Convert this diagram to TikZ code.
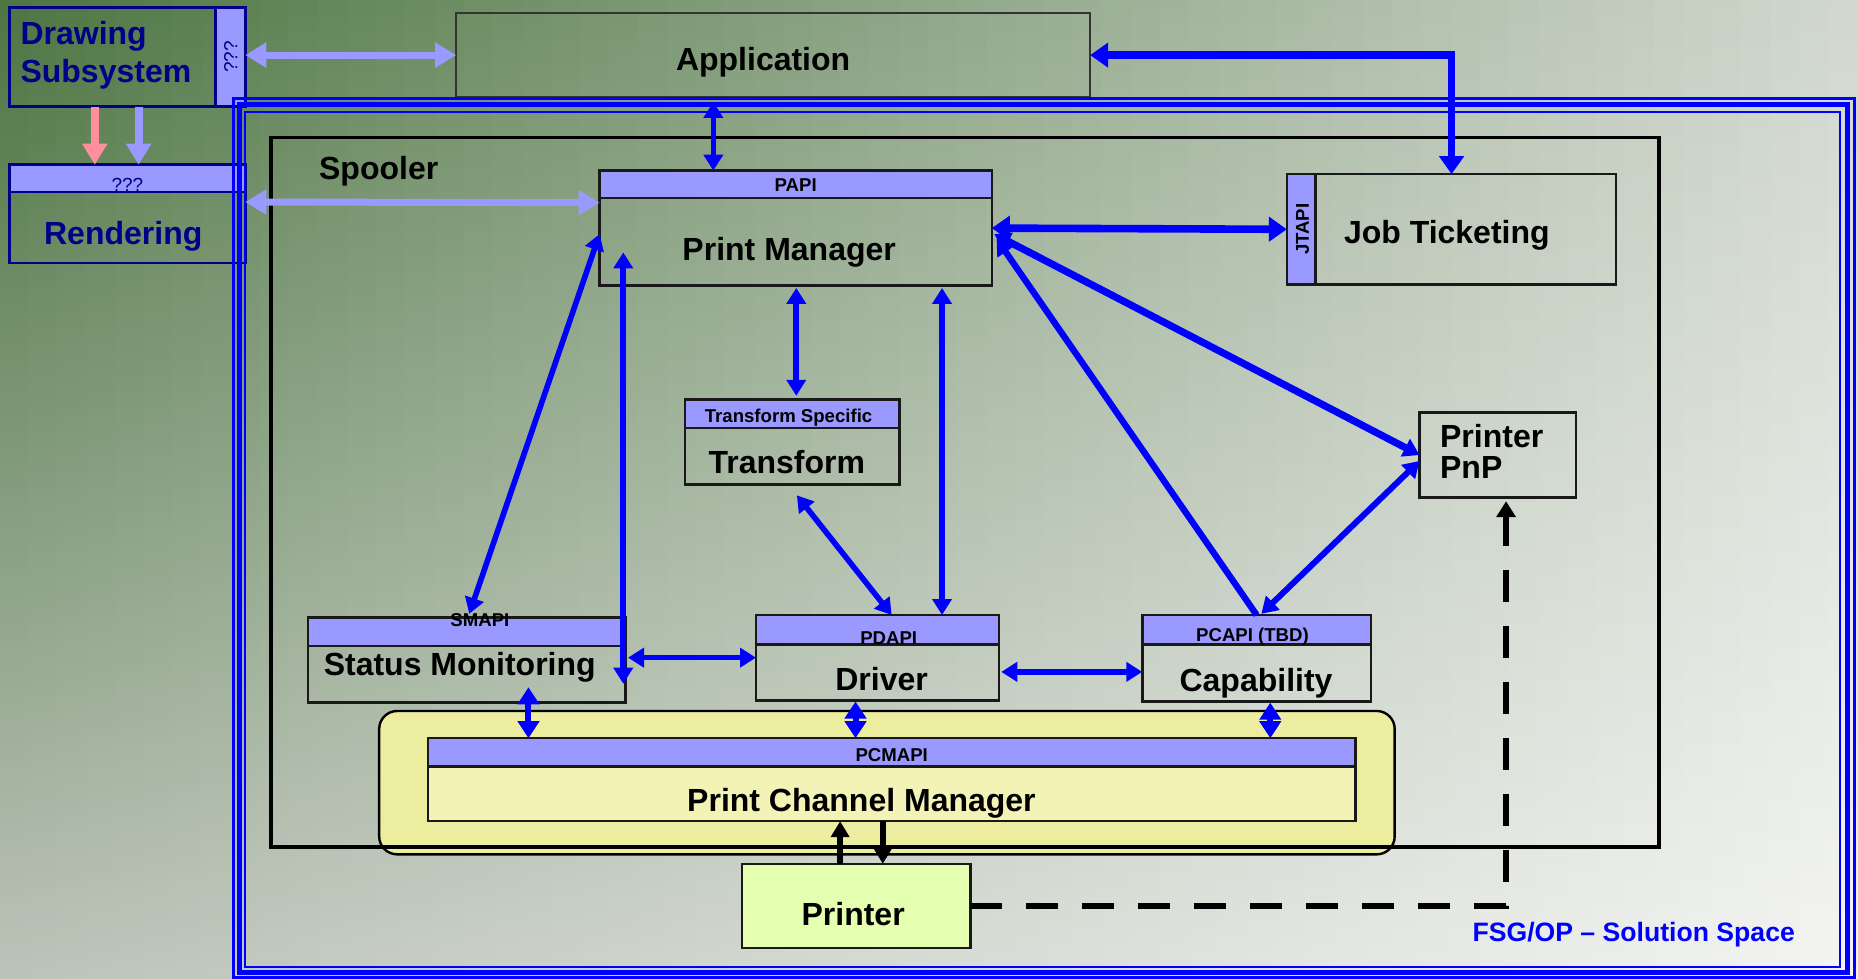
\documentclass[tikz,border=0pt]{standalone}
\usepackage{fontspec}
\setmainfont{Liberation Sans}
\usetikzlibrary{arrows.meta,calc}
\newdimen\U \U=0.5925pt
\definecolor{lav}{HTML}{9999FF}
\definecolor{navy}{HTML}{000088}
\definecolor{bblue}{HTML}{0000FF}
\definecolor{pinkc}{HTML}{FF8F9B}
\definecolor{bgTL}{HTML}{4C7541}
\definecolor{bgTR}{HTML}{D2D8CF}
\definecolor{bgBL}{HTML}{BCC3B9}
\definecolor{bgBR}{HTML}{F4F5F3}
\definecolor{ylw}{HTML}{EDED9F}
\definecolor{ylw2}{HTML}{F3F3B5}
\definecolor{prnfill}{HTML}{E4FFB0}
\newcommand\mkbox[6][]{\node[boxsty,minimum width={(#5-#3)*\U},minimum height={(#6-#4)*\U},#1] (#2) at ({(#3+#5)/2},{(#4+#6)/2}) {};}
\tikzset{
  boxsty/.style={rectangle, draw=black!90, line width=1.2pt, inner sep=0pt, outer sep=0pt},
  stripsty/.style={fill=lav, draw=black!90, line width=1.2pt},
  bigtxt/.style={font=\fontsize{16}{19}\selectfont\bfseries, inner sep=0pt, text height=11.5pt, text depth=0pt},
  lbltxt/.style={font=\fontsize{9.3}{11}\selectfont\bfseries, inner sep=0pt, text height=6.7pt, text depth=0pt},
  qtxt/.style={font=\fontsize{9.5}{11}\selectfont, text=navy, inner sep=0pt, text height=6.8pt, text depth=0pt},
  tipB/.tip={Triangle[length=8pt,width=9.5pt]},
  tipBB/.tip={Triangle[length=9pt,width=12pt]},
  tipS/.tip={Triangle[length=8.5pt,width=10.5pt]},
  tipL/.tip={Triangle[length=10.5pt,width=12pt]},
  tipK/.tip={Triangle[length=8pt,width=9pt]},
  blu/.style={draw=bblue, line width=2.8pt, tipB-tipB},
  bluT/.style={draw=bblue, line width=3.8pt, tipBB-tipBB},
  bluS/.style={draw=bblue, line width=3pt, tipS-tipS},
  lavar/.style={draw=lav, line width=3.5pt, tipL-tipL},
  blk/.style={draw=black, line width=2.8pt, -tipK},
  dashline/.style={draw=black, line width=3pt, dash pattern=on 16pt off 12pt, -tipB},
}
\begin{document}
\begin{tikzpicture}[x=0.5925pt,y=-0.5925pt]
\useasboundingbox (0,0) rectangle (1568,826);
% background: bilinear gradient built from vertical strips
\foreach \i in {0,...,63}{
  \pgfmathsetmacro\p{100*(\i+0.5)/64}
  \shade[top color=bgTR!\p!bgTL, bottom color=bgBR!\p!bgBL]
    ({\i*24.5-0.6},0) rectangle ({(\i+1)*24.5+0.6},826);
}

% Drawing subsystem and rendering
\mkbox[draw=navy, line width=1.4pt]{ds}{8}{6}{207}{90}
\draw[fill=lav, draw=navy, line width=1.4pt] (ds.north east) rectangle ($(ds.south east)+(-25,0)$);
\node[qtxt, rotate=90] (dsq) at ($(ds.east)+(-12.5,0)$) {???};
\node[bigtxt, text=navy, anchor=west] (dst1) at (17,28) {Drawing};
\node[bigtxt, text=navy, anchor=west] (dst2) at (17,60) {Subsystem};

\mkbox[draw=navy, line width=1.4pt]{rn}{8}{139}{207}{222}
\draw[fill=lav, draw=navy, line width=1.4pt] (rn.north west) rectangle ($(rn.north east)+(0,23)$);
\node[qtxt] (rnq) at ($(rn.north)+(0,17)$) {???};
\node[bigtxt, text=navy] (rnt) at (104,197) {Rendering};

\draw[draw=pinkc, line width=4pt, -tipL] ($(ds.south west)+(72,0)$) -- ($(rn.north west)+(72,0)$);
\draw[draw=lav, line width=4pt, -tipL] ($(ds.south west)+(109,0)$) -- ($(rn.north west)+(109,0)$);

% Application
\mkbox[draw=black!80, line width=1pt]{app}{385}{11}{920}{82}
\node[bigtxt] (appt) at (644,50) {Application};

% solution-space frame
\draw[bblue, line width=1.2pt] (197,83) rectangle (1565,825);
\draw[bblue, line width=2.6pt] (202,88.5) rectangle (1559,821);
\draw[bblue, line width=1.2pt] (207,94.5) rectangle (1553,816);

% yellow print channel area
\draw[fill=ylw, draw=black, line width=1.2pt, rounded corners=9pt] (320,600) rectangle (1177,721);

% spooler
\mkbox[draw=black, line width=1.9pt]{sp}{229}{116}{1400}{715}
\node[bigtxt, anchor=west] (spt) at (269,142) {Spooler};

% print channel manager
\mkbox[fill=ylw2]{pcm}{361}{623}{1144}{693}
\draw[stripsty] (pcm.north west) rectangle ($(pcm.north east)+(0,24)$);
\node[lbltxt] (pcml) at ($(pcm.north)+(0,14)$) {PCMAPI};
\node[bigtxt] (pcmt) at (727,675) {Print Channel Manager};

% printer
\mkbox[fill=prnfill]{prn}{626}{729}{819}{800}
\node[bigtxt] (prnt) at (720,771) {Printer};

% print manager
\mkbox{pm}{506}{144}{837}{241}
\draw[stripsty] (pm.north west) rectangle ($(pm.north east)+(0,23)$);
\node[lbltxt] (pml) at ($(pm.north)+(0,12)$) {PAPI};
\node[bigtxt] (pmt) at (666,210) {Print Manager};

% job ticketing
\mkbox{jt}{1086}{147}{1364}{240}
\draw[stripsty] (jt.north west) rectangle ($(jt.south west)+(24,0)$);
\node[lbltxt, rotate=90] (jtl) at ($(jt.west)+(13,0)$) {JTAPI};
\node[bigtxt] (jtt) at (1221,196) {Job Ticketing};

% transform
\mkbox{tr}{578}{337}{759}{409}
\draw[stripsty] (tr.north west) rectangle ($(tr.north east)+(0,24)$);
\node[lbltxt] (trl) at ($(tr.north)+(-3,14)$) {Transform Specific};
\node[bigtxt] (trt) at (664,390) {Transform};

% printer PnP
\mkbox{pnp}{1198}{348}{1330}{420}
\node[bigtxt, anchor=west] (pnp1) at (1215,368) {Printer};
\node[bigtxt, anchor=west] (pnp2) at (1215,394) {PnP};

% status monitoring
\mkbox{sm}{260}{521}{528}{593}
\draw[stripsty] (sm.north west) rectangle ($(sm.north east)+(0,24)$);
\node[lbltxt] (sml) at (405,523) {SMAPI};
\node[bigtxt] (smt) at (388,560) {Status Monitoring};

% driver
\mkbox{drv}{638}{519}{843}{591}
\draw[stripsty] (drv.north west) rectangle ($(drv.north east)+(0,25)$);
\node[lbltxt] (drvl) at (750,538) {PDAPI};
\node[bigtxt] (drvt) at (744,573) {Driver};

% capability
\mkbox{cap}{964}{519}{1157}{592}
\draw[stripsty] (cap.north west) rectangle ($(cap.north east)+(0,25)$);
\node[lbltxt] (capl) at (1057,536) {PCAPI (TBD)};
\node[bigtxt] (capt) at (1060,574) {Capability};

% lavender connectors
\draw[lavar] (ds.east |- app.west) -- (app.west);
\draw[lavar] ($(rn.east)+(0,-10)$) -- ($(pm.north west)+(0,27)$);

% blue connectors
\coordinate (a1) at ($(pm.north west)+(96,0)$);
\draw[blu] ($(app.south -| a1)+(0,4)$) -- (a1);
\draw[bluT] (app.east) -| (jt.north);
\draw[bluT] (pm.east) -- (jt.west);
\draw[blu, line width=3.6pt] ($(pm.east)+(2,5)$) -- ($(pnp.west)+(0,0)$);
\draw[draw=bblue, line width=3.2pt, tipB-] ($(pm.east)+(4,9)$) -- (cap.north);
\draw[blu, line width=3pt] ($(pnp.west)+(0,5)$) -- ($(cap.north)+(4,-1)$);
\coordinate (t1) at ($(tr.north)+(3.5,0)$);
\draw[blu] ($(pm.south -| t1)+(0,2)$) -- ($(t1)+(0,-3)$);
\coordinate (d1) at ($(drv.north west)+(157,0)$);
\draw[blu] ($(pm.south -| d1)+(0,2)$) -- (d1);
\draw[blu] ($(tr.south)+(4,9)$) -- ($(drv.north)+(12,0)$);
\draw[blu] ($(pm.west)+(0,5)$) -- ($(sm.north)+(2,-3)$);
\draw[blu] ($(pm.south west)+(20,-28)$) -- ($(sm.south east)+(-2,-16)$);
\draw[blu] ($(sm.east |- drv.west)+(2,0)$) -- (drv.west);
\draw[blu] ($(drv.east)+(2,12)$) -- ($(cap.west)+(0,11.5)$);
\coordinate (s1) at ($(sm.south west)+(186,0)$);
\draw[bluS] ($(s1)+(0,-13)$) -- (pcm.north -| s1);
\coordinate (s2) at ($(drv.south west)+(84,0)$);
\draw[bluS] ($(s2)+(0,1)$) -- (pcm.north -| s2);
\coordinate (s3) at ($(cap.south west)+(108,0)$);
\draw[bluS] ($(s3)+(0,1)$) -- (pcm.north -| s3);

% black connectors
\coordinate (k1) at ($(prn.north west)+(83,0)$);
\draw[blk] (k1) -- (pcm.south -| k1);
\coordinate (k2) at ($(prn.north west)+(119,0)$);
\draw[blk] (pcm.south -| k2) -- (k2);
\draw[dashline] (prn.east) -| ($(pnp.south)+(7,3)$);

\node[font=\fontsize{13.3}{15}\selectfont\bfseries, text=bblue, anchor=east, inner sep=0pt] (fsg) at (1515,789) {FSG/OP – Solution Space};
\end{tikzpicture}
\end{document}
